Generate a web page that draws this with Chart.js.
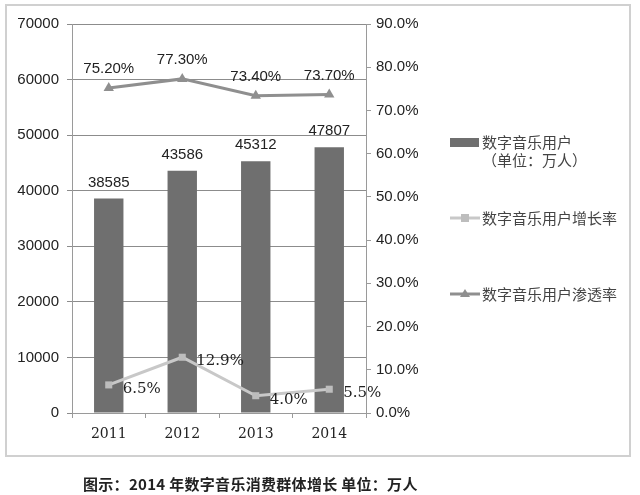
<!DOCTYPE html>
<html>
<head>
<meta charset="utf-8">
<script src="https://cdn.jsdelivr.net/npm/chart.js@4/dist/chart.umd.min.js"></script>
<style>
  body { margin: 0; background: #fff; }
  #wrap { position: relative; width: 640px; height: 495px; }
  #frame { position: absolute; left: 5px; top: 4px; width: 622px; height: 449px; border: 2px solid #d0d0d0; }
  #chart { position: absolute; left: 0; top: 0; }
  #caption { position: absolute; left: 83px; top: 473px; font: 600 15px "Noto Sans CJK SC", sans-serif; color: #222; white-space: nowrap; letter-spacing: 0.3px; }
</style>
</head>
<body>
<div id="wrap">
  <div id="frame"></div>
  <canvas id="chart" width="640" height="495"></canvas>
  <div id="caption">图示：2014 年数字音乐消费群体增长 单位：万人</div>
</div>
<script>
const years = ['2011', '2012', '2013', '2014'];
const users = [38585, 43586, 45312, 47807];
const growthRate = [6.5, 12.9, 4.0, 5.5];
const penetrationRate = [75.2, 77.3, 73.4, 73.7];

const seriesNames = ['数字音乐用户', '数字音乐用户增长率', '数字音乐用户渗透率'];

const barColor = '#6f6f6f';
const growthColor = '#c8c8c8';
const penColor = '#8f8f8f';

// value labels drawn next to each point / bar
const valueLabels = {
  id: 'valueLabels',
  afterDatasetsDraw(chart) {
    const ctx = chart.ctx;
    ctx.save();
    ctx.fillStyle = '#222';
    ctx.textBaseline = 'middle';
    chart.data.datasets.forEach((ds, i) => {
      const meta = chart.getDatasetMeta(i);
      meta.data.forEach((el, j) => {
        const v = ds.data[j];
        if (i === 0) {
          ctx.font = '15px "Liberation Sans", sans-serif';
          ctx.textAlign = 'center';
          ctx.fillText(String(v), el.x, el.y - 16);
        } else if (i === 1) {
          ctx.font = '15px "DejaVu Serif", serif';
          ctx.textAlign = 'left';
          ctx.fillText(v.toFixed(1) + '%', el.x + 14, el.y + 4);
        } else {
          ctx.font = '15px "Liberation Sans", sans-serif';
          ctx.textAlign = 'center';
          ctx.fillText(v.toFixed(2) + '%', el.x, el.y - 19);
        }
      });
    });
    ctx.restore();
  }
};

// legend on the right, spaced like the original
const sideLegend = {
  id: 'sideLegend',
  afterDraw(chart) {
    const ctx = chart.ctx;
    ctx.save();
    ctx.font = '15px "Noto Sans CJK SC", sans-serif';
    ctx.textBaseline = 'middle';
    ctx.textAlign = 'left';

    ctx.fillStyle = barColor;
    ctx.fillRect(450, 138, 29, 9);
    ctx.fillStyle = '#444';
    ctx.fillText(seriesNames[0], 482, 142);
    ctx.fillText('（单位：万人）', 482, 160);

    ctx.strokeStyle = growthColor;
    ctx.lineWidth = 3;
    ctx.beginPath(); ctx.moveTo(450, 218); ctx.lineTo(480, 218); ctx.stroke();
    ctx.fillStyle = '#bdbdbd';
    ctx.fillRect(461, 214, 8, 8);
    ctx.fillStyle = '#444';
    ctx.fillText(seriesNames[1], 482, 218);

    ctx.strokeStyle = penColor;
    ctx.beginPath(); ctx.moveTo(450, 294); ctx.lineTo(480, 294); ctx.stroke();
    ctx.fillStyle = penColor;
    ctx.beginPath(); ctx.moveTo(465, 289); ctx.lineTo(470, 297); ctx.lineTo(460, 297); ctx.closePath(); ctx.fill();
    ctx.fillStyle = '#444';
    ctx.fillText(seriesNames[2], 482, 294);
    ctx.restore();
  }
};

new Chart(document.getElementById('chart'), {
  type: 'bar',
  data: {
    labels: years,
    datasets: [
      {
        label: seriesNames[0],
        data: users,
        backgroundColor: barColor,
        yAxisID: 'y',
        categoryPercentage: 1,
        barPercentage: 0.4,
        order: 3
      },
      {
        type: 'line',
        label: seriesNames[1],
        data: growthRate,
        yAxisID: 'y1',
        borderColor: growthColor,
        backgroundColor: '#bdbdbd',
        borderWidth: 3,
        pointStyle: 'rect',
        pointRadius: 5,
        pointBorderWidth: 0,
        tension: 0,
        order: 1
      },
      {
        type: 'line',
        label: seriesNames[2],
        data: penetrationRate,
        yAxisID: 'y1',
        borderColor: penColor,
        backgroundColor: penColor,
        borderWidth: 3,
        pointStyle: 'triangle',
        pointRadius: 6,
        pointBorderWidth: 0,
        tension: 0,
        order: 2
      }
    ]
  },
  options: {
    responsive: false,
    animation: false,
    layout: { padding: { left: 0, top: 24, right: 204, bottom: 42 } },
    plugins: {
      legend: { display: false },
      tooltip: { enabled: false }
    },
    scales: {
      x: {
        afterFit(scale) { scale.height = 40; },
        grid: { drawOnChartArea: false, color: '#9a9a9a', tickLength: 5 },
        border: { color: '#9a9a9a' },
        ticks: { color: '#222', font: { family: '"DejaVu Serif", serif', size: 14 }, padding: 8 }
      },
      y: {
        position: 'left',
        min: 0,
        max: 70000,
        afterFit(scale) { scale.width = 72; },
        ticks: { stepSize: 10000, color: '#222', font: { family: '"Liberation Sans", sans-serif', size: 15 }, padding: 8,
          callback: v => String(v) },
        grid: { color: '#8c8c8c', tickLength: 5 },
        border: { color: '#9a9a9a' }
      },
      y1: {
        position: 'right',
        min: 0,
        max: 90,
        afterFit(scale) { scale.width = 70; },
        ticks: { stepSize: 10, color: '#222', font: { family: '"Liberation Sans", sans-serif', size: 15 }, padding: 5,
          callback: v => v.toFixed(1) + '%' },
        grid: { drawOnChartArea: false, color: '#9a9a9a', tickLength: 5 },
        border: { color: '#9a9a9a' }
      }
    }
  },
  plugins: [valueLabels, sideLegend]
});
</script>
</body>
</html>
